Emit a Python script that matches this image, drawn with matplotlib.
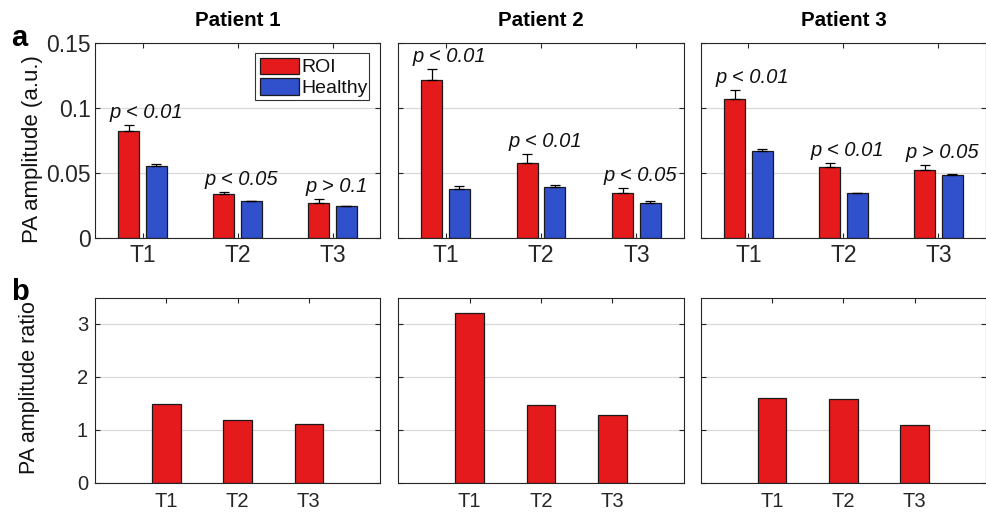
import numpy as np
import matplotlib
matplotlib.use("Agg")
import matplotlib.pyplot as plt
from matplotlib.patches import Rectangle

plt.rcParams['font.family'] = ['Liberation Sans', 'DejaVu Sans']

# ---------------- data ----------------
timepoints = ["T1", "T2", "T3"]
patients = ["Patient 1", "Patient 2", "Patient 3"]
series_names = ["ROI", "Healthy"]

roi_p1 = [0.0823, 0.0336, 0.0272]
healthy_p1 = [0.0556, 0.0282, 0.0244]
roi_err_p1 = [0.0044, 0.0020, 0.0025]
healthy_err_p1 = [0.0013, 0.0004, 0.0004]

roi_p2 = [0.1212, 0.0577, 0.0343]
healthy_p2 = [0.0377, 0.0395, 0.0272]
roi_err_p2 = [0.0088, 0.0069, 0.0042]
healthy_err_p2 = [0.0020, 0.0015, 0.0013]

roi_p3 = [0.1071, 0.0544, 0.0525]
healthy_p3 = [0.0667, 0.0343, 0.0484]
roi_err_p3 = [0.0064, 0.0033, 0.0036]
healthy_err_p3 = [0.0018, 0.0007, 0.0010]

ratio_p1 = [1.49, 1.18, 1.11]
ratio_p2 = [3.20, 1.46, 1.27]
ratio_p3 = [1.60, 1.58, 1.08]

pvals_p1 = ["p < 0.01", "p < 0.05", "p > 0.1"]
pvals_p2 = ["p < 0.01", "p < 0.01", "p < 0.05"]
pvals_p3 = ["p < 0.01", "p < 0.01", "p > 0.05"]

top_yticks = [0, 0.05, 0.1, 0.15]
top_yticklabels = ["0", "0.05", "0.1", "0.15"]
bot_yticks = [0, 1, 2, 3]

roi_all = [roi_p1, roi_p2, roi_p3]
healthy_all = [healthy_p1, healthy_p2, healthy_p3]
roi_err_all = [roi_err_p1, roi_err_p2, roi_err_p3]
healthy_err_all = [healthy_err_p1, healthy_err_p2, healthy_err_p3]
ratio_all = [ratio_p1, ratio_p2, ratio_p3]
pvals_all = [pvals_p1, pvals_p2, pvals_p3]

# ---------------- style ----------------
RED = "#E41A1C"
BLUE = "#3050CC"
EDGE = "#1a1a1a"
AXC = "#262626"
GRID = "#d9d9d9"

W, H = 987, 514
fig = plt.figure(figsize=(W / 100, H / 100), dpi=100)

def px_rect(l, r, t, b):
    return [l / W, 1 - b / H, (r - l) / W, (b - t) / H]

cols = [(95, 380), (398, 684), (701, 986)]
top_row = (43, 238)
bot_row = (297.5, 482.5)

def style_axis(ax, fs):
    for s in ax.spines.values():
        s.set_color(AXC)
        s.set_linewidth(0.8)
    ax.tick_params(direction="in", top=True, right=True, length=3.5, width=0.8,
                   colors=AXC, labelsize=fs)
    ax.yaxis.grid(True, color=GRID, linewidth=0.9)
    ax.set_axisbelow(True)

x = np.arange(1, len(timepoints) + 1)
bw = 0.22
off = 0.145

for i, (l, r) in enumerate(cols):
    ax = fig.add_axes(px_rect(l, r, *top_row))
    style_axis(ax, 16.5)
    ax.tick_params(axis="x", pad=4)
    ax.tick_params(axis="y", pad=3)
    ax.bar(x - off, roi_all[i], bw, color=RED, edgecolor=EDGE, linewidth=0.9,
           label=series_names[0], zorder=2)
    ax.bar(x + off, healthy_all[i], bw, color=BLUE, edgecolor=EDGE, linewidth=0.9,
           label=series_names[1], zorder=2)
    ax.errorbar(x - off, roi_all[i],
                yerr=[np.zeros(3), roi_err_all[i]], fmt="none", ecolor="black",
                elinewidth=0.9, capsize=3.5, capthick=0.9, zorder=3)
    ax.errorbar(x + off, healthy_all[i],
                yerr=[np.zeros(3), healthy_err_all[i]], fmt="none", ecolor="black",
                elinewidth=0.9, capsize=3.5, capthick=0.9, zorder=3)
    for j in range(3):
        ytop = max(roi_all[i][j] + roi_err_all[i][j],
                   healthy_all[i][j] + healthy_err_all[i][j])
        ax.text(x[j] + 0.04, ytop + 0.0055, pvals_all[i][j], ha="center",
                va="baseline", fontsize=14.5, style="italic", color="#111111")
    ax.set_xlim(0.5, 3.5)
    ax.set_ylim(0, 0.15)
    ax.set_xticks(x)
    ax.set_xticklabels(timepoints)
    ax.set_yticks(top_yticks)
    if i == 0:
        ax.set_yticklabels(top_yticklabels)
    else:
        ax.set_yticklabels([])
    fig.text((l + r) / 2 / W, 1 - 20 / H, patients[i], ha="center", va="center",
             fontsize=14.8, fontweight="bold")

# legend box (MATLAB-style, compact), drawn in figure pixel positions
def fig_box(l, t, r, b, **kw):
    return Rectangle((l / W, 1 - b / H), (r - l) / W, (b - t) / H,
                     transform=fig.transFigure, **kw)

fig.add_artist(fig_box(255, 53.3, 369.3, 100, facecolor="white",
                       edgecolor="#333333", linewidth=0.8, zorder=5))
for k, (col, name) in enumerate(zip([RED, BLUE], series_names)):
    t = 57.7 + k * 20.6
    b = t + 16.6
    fig.add_artist(fig_box(260, t, 299.3, b, facecolor=col, edgecolor=EDGE,
                           linewidth=0.9, zorder=6))
    fig.text(301.5 / W, 1 - (t + b) / 2 / H, name, ha="left", va="center_baseline",
             fontsize=14, color="#111111", zorder=7)

for i, (l, r) in enumerate(cols):
    ax = fig.add_axes(px_rect(l, r, *bot_row))
    style_axis(ax, 14.5)
    ax.tick_params(axis="x", pad=7)
    ax.tick_params(axis="y", pad=5)
    ax.bar(x, ratio_all[i], 0.4, color=RED, edgecolor=EDGE, linewidth=0.9, zorder=2)
    ax.set_xlim(0, 4)
    ax.set_ylim(0, 3.5)
    ax.set_xticks(x)
    ax.set_xticklabels(timepoints)
    ax.set_yticks(bot_yticks)
    if i != 0:
        ax.set_yticklabels([])

fig.text(33 / W, 1 - 149 / H, "PA amplitude (a.u.)", rotation=90, ha="center",
         va="center", fontsize=16, color="#111111")
fig.text(30 / W, 1 - 388 / H, "PA amplitude ratio", rotation=90, ha="center",
         va="center", fontsize=15.5, color="#111111")
fig.text(11 / W, 1 - 46 / H, "a", fontsize=21, fontweight="bold", va="baseline")
fig.text(11 / W, 1 - 300 / H, "b", fontsize=21, fontweight="bold", va="baseline")

fig.savefig("out.png", dpi=100)
